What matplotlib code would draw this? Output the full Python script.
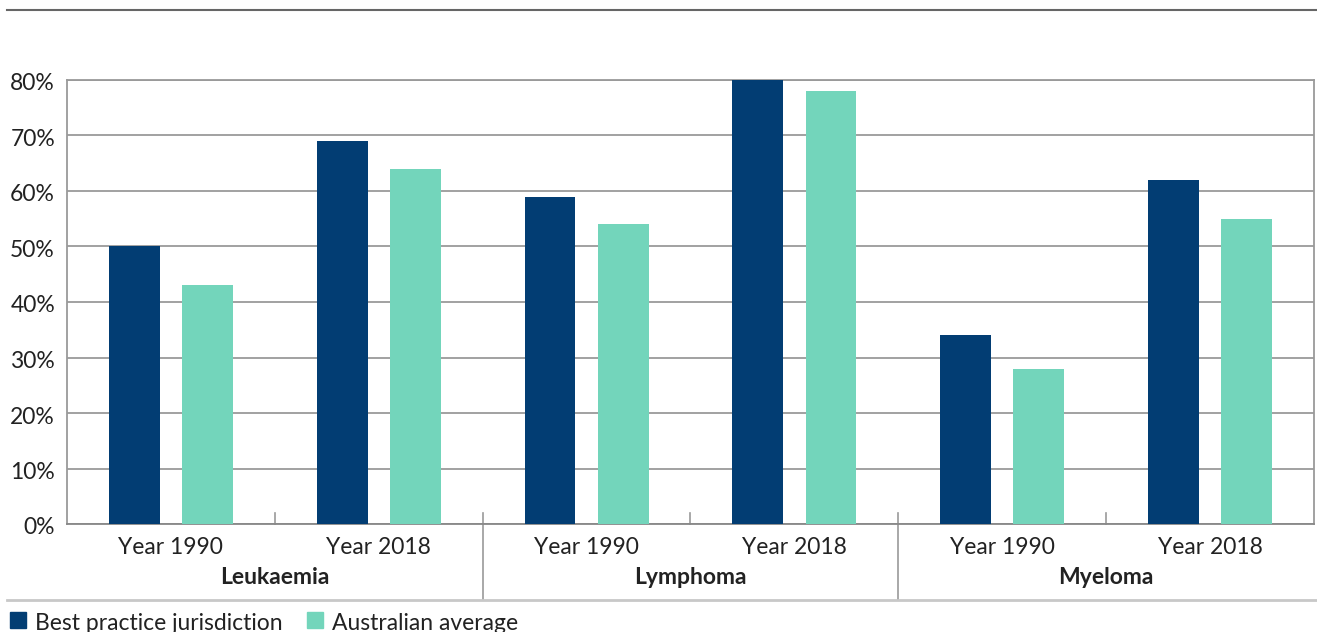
import matplotlib
matplotlib.use("Agg")
import matplotlib.pyplot as plt
import matplotlib.transforms as mtransforms
from matplotlib.lines import Line2D
from matplotlib.patches import Rectangle
import numpy as np

groups = ["Leukaemia", "Lymphoma", "Myeloma"]
years = ["Year 1990", "Year 2018"]
best_practice = [50, 69, 59, 80, 34, 62]
australian_avg = [43, 64, 54, 78, 28, 55]
yticks = [0, 10, 20, 30, 40, 50, 60, 70, 80]
series_names = ["Best practice jurisdiction", "Australian average"]
colors = ["#023d73", "#73d5bb"]

plt.rcParams['font.family'] = ['Lato', 'DejaVu Sans']
W, H = 1317, 632
fig = plt.figure(figsize=(W/100, H/100), dpi=100)
ax = fig.add_axes([67/W, (H-524)/H, (1314-67)/W, (524-80)/H])

x = np.arange(len(best_practice))
bw = 0.245
off = 0.176
ax.bar(x - off, best_practice, bw, color=colors[0], zorder=3)
ax.bar(x + off, australian_avg, bw, color=colors[1], zorder=3)

FS = 16.5
TC = "#222222"
ax.set_xlim(-0.5, len(x) - 0.5)
ax.set_ylim(0, 80)
ax.set_yticks(yticks)
ax.set_yticklabels([])
ax.yaxis.grid(True, color="#9a9a9a", linewidth=1.3, zorder=0)
ax.set_axisbelow(True)
ax.tick_params(axis='y', length=0)
ax.tick_params(axis='x', length=0)
ax.set_xticks([])
for s in ['left', 'right', 'bottom', 'top']:
    ax.spines[s].set_color("#9a9a9a")
    ax.spines[s].set_linewidth(1.3)
ax.spines['bottom'].set_color("#888888")

# y tick labels (slightly below their gridlines, as in the original)
ytrans = ax.get_yaxis_transform() + mtransforms.ScaledTranslation(-12/100, -4/100, fig.dpi_scale_trans)
for v in yticks:
    ax.text(0, v, f"{v}%", transform=ytrans, ha='right', va='center',
            fontsize=FS, color=TC, clip_on=False)

trans = ax.get_xaxis_transform()
ah = 524 - 80
for i in range(len(x)):
    ax.text(i, -24/ah, years[i % 2], transform=trans, ha='center', va='center',
            fontsize=FS, color=TC)
for g, name in enumerate(groups):
    ax.text(2*g + 0.5, -54/ah, name, transform=trans, ha='center', va='center',
            fontsize=FS, color=TC, fontweight='bold')

# minor separators between years
for g in range(len(groups)):
    xs = 2*g + 0.5
    ax.add_line(Line2D([xs, xs], [0, 11/ah], transform=trans, color="#9a9a9a",
                       linewidth=1.2, clip_on=False))
# major separators between groups
for g in range(1, len(groups)):
    xs = 2*g - 0.5
    ax.add_line(Line2D([xs, xs], [-(600-524)/ah, 11/ah], transform=trans, color="#9a9a9a",
                       linewidth=1.2, clip_on=False))

# figure lines
fig.add_artist(Line2D([7/W, 1], [1 - 10/H, 1 - 10/H], transform=fig.transFigure,
                      color="#666666", linewidth=1.5))
fig.add_artist(Line2D([7/W, 1], [1 - 600/H, 1 - 600/H], transform=fig.transFigure,
                      color="#c8c8c8", linewidth=2))

# legend
lx = [10, 307]
for i, name in enumerate(series_names):
    fig.add_artist(Rectangle((lx[i]/W, 1 - 628/H), 16/W, 16/H, transform=fig.transFigure,
                             color=colors[i]))
    fig.text((lx[i] + 25)/W, 1 - 623/H, name, fontsize=FS, color=TC,
             va='center', ha='left')

fig.savefig("out.png", dpi=100)
